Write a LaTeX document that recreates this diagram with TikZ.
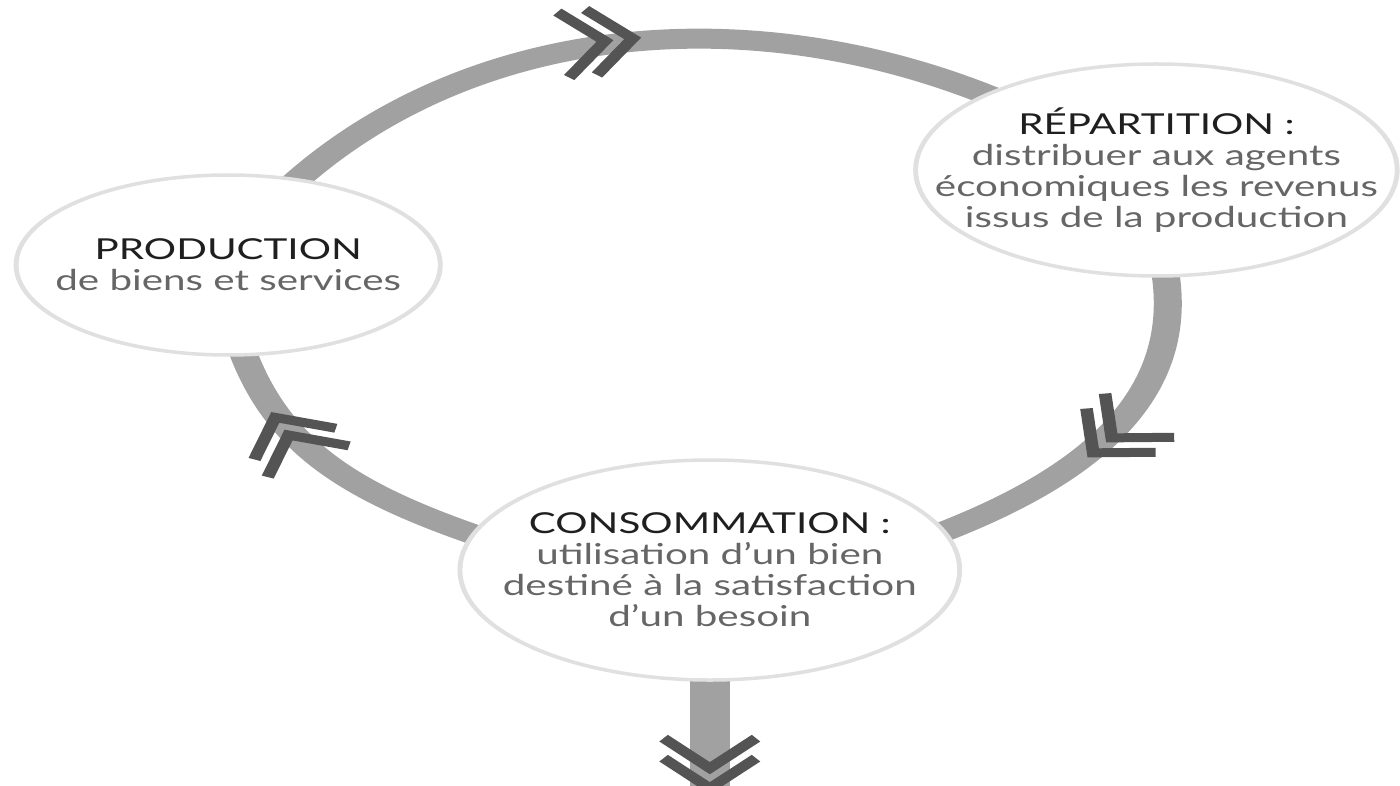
\documentclass[tikz,border=0pt]{standalone}
\usepackage{fontspec}
\setmainfont{Lato}
\colorlet{ringgray}{black!37}
\colorlet{tipgray}{black!67}
\colorlet{rimgray}{black!12}
\colorlet{bodygray}{black!60}
\colorlet{titleink}{black!88}
\usetikzlibrary{shapes.geometric,decorations.markings,backgrounds}

\begin{document}
\begin{tikzpicture}[x=0.1mm,y=0.1mm]

\def\stretch{1.4}

\tikzset{
    every label/.style={font=\fontsize{8.2}{8.8}\selectfont, align=center, text=bodygray, inner sep=0pt},
    stage/.style={ellipse, draw=rimgray, line width=0.35mm, fill=white, inner sep=0pt},
    ring/.style={draw=ringgray, line width=2mm, shorten <=-2mm, shorten >=-2mm},
    outflow/.style={draw=ringgray, line width=2.86mm, shorten <=-2mm},
    chevron/.style={draw=tipgray, line width=0.9mm, line cap=butt, shorten <=0pt, shorten >=0pt},
    chevrons/.style={postaction={decorate, decoration={markings,
        mark=at position #1 with {
            \draw[chevron] (-30,33) -- (0,0) -- (-30,-33);
            \draw[chevron] (-50,33) -- (-20,0) -- (-50,-33);}}}}
}

\useasboundingbox (0,0) rectangle (1400,-785);

\begin{scope}[transform canvas={xscale=\stretch}]
\node[stage, minimum width=30.3mm, minimum height=18mm,
    label={center:{{\color{titleink}PRODUCTION}\\de biens et services}}] (prod) at (163,-265) {};
\node[stage, minimum width=34.4mm, minimum height=21.2mm,
    label={center:{{\color{titleink}RÉPARTITION :}\\distribuer aux agents\\économiques les revenus\\issus de la production}}] (rep) at (826,-170) {};
\node[stage, minimum width=35.7mm, minimum height=22mm,
    label={center:{{\color{titleink}CONSOMMATION :}\\utilisation d’un bien\\destiné à la satisfaction\\d’un besoin}}] (cons) at (507,-570) {};
\end{scope}

\begin{pgfonlayer}{background}
\begin{scope}[transform canvas={xscale=\stretch}]
\coordinate (sink) at (507,-800);
\draw[ring, chevrons=0.52] (prod.60) to[out=53, in=149] (rep.148);
\draw[ring, chevrons=0.59] (rep.-86) to[out=-81, in=27] (cons.13);
\draw[ring, chevrons=0.74] (cons.168) to[out=155, in=-77] (prod.-83);
\draw[outflow, chevrons=0.9] (cons) -- (sink);
\end{scope}
\end{pgfonlayer}

\end{tikzpicture}
\end{document}
